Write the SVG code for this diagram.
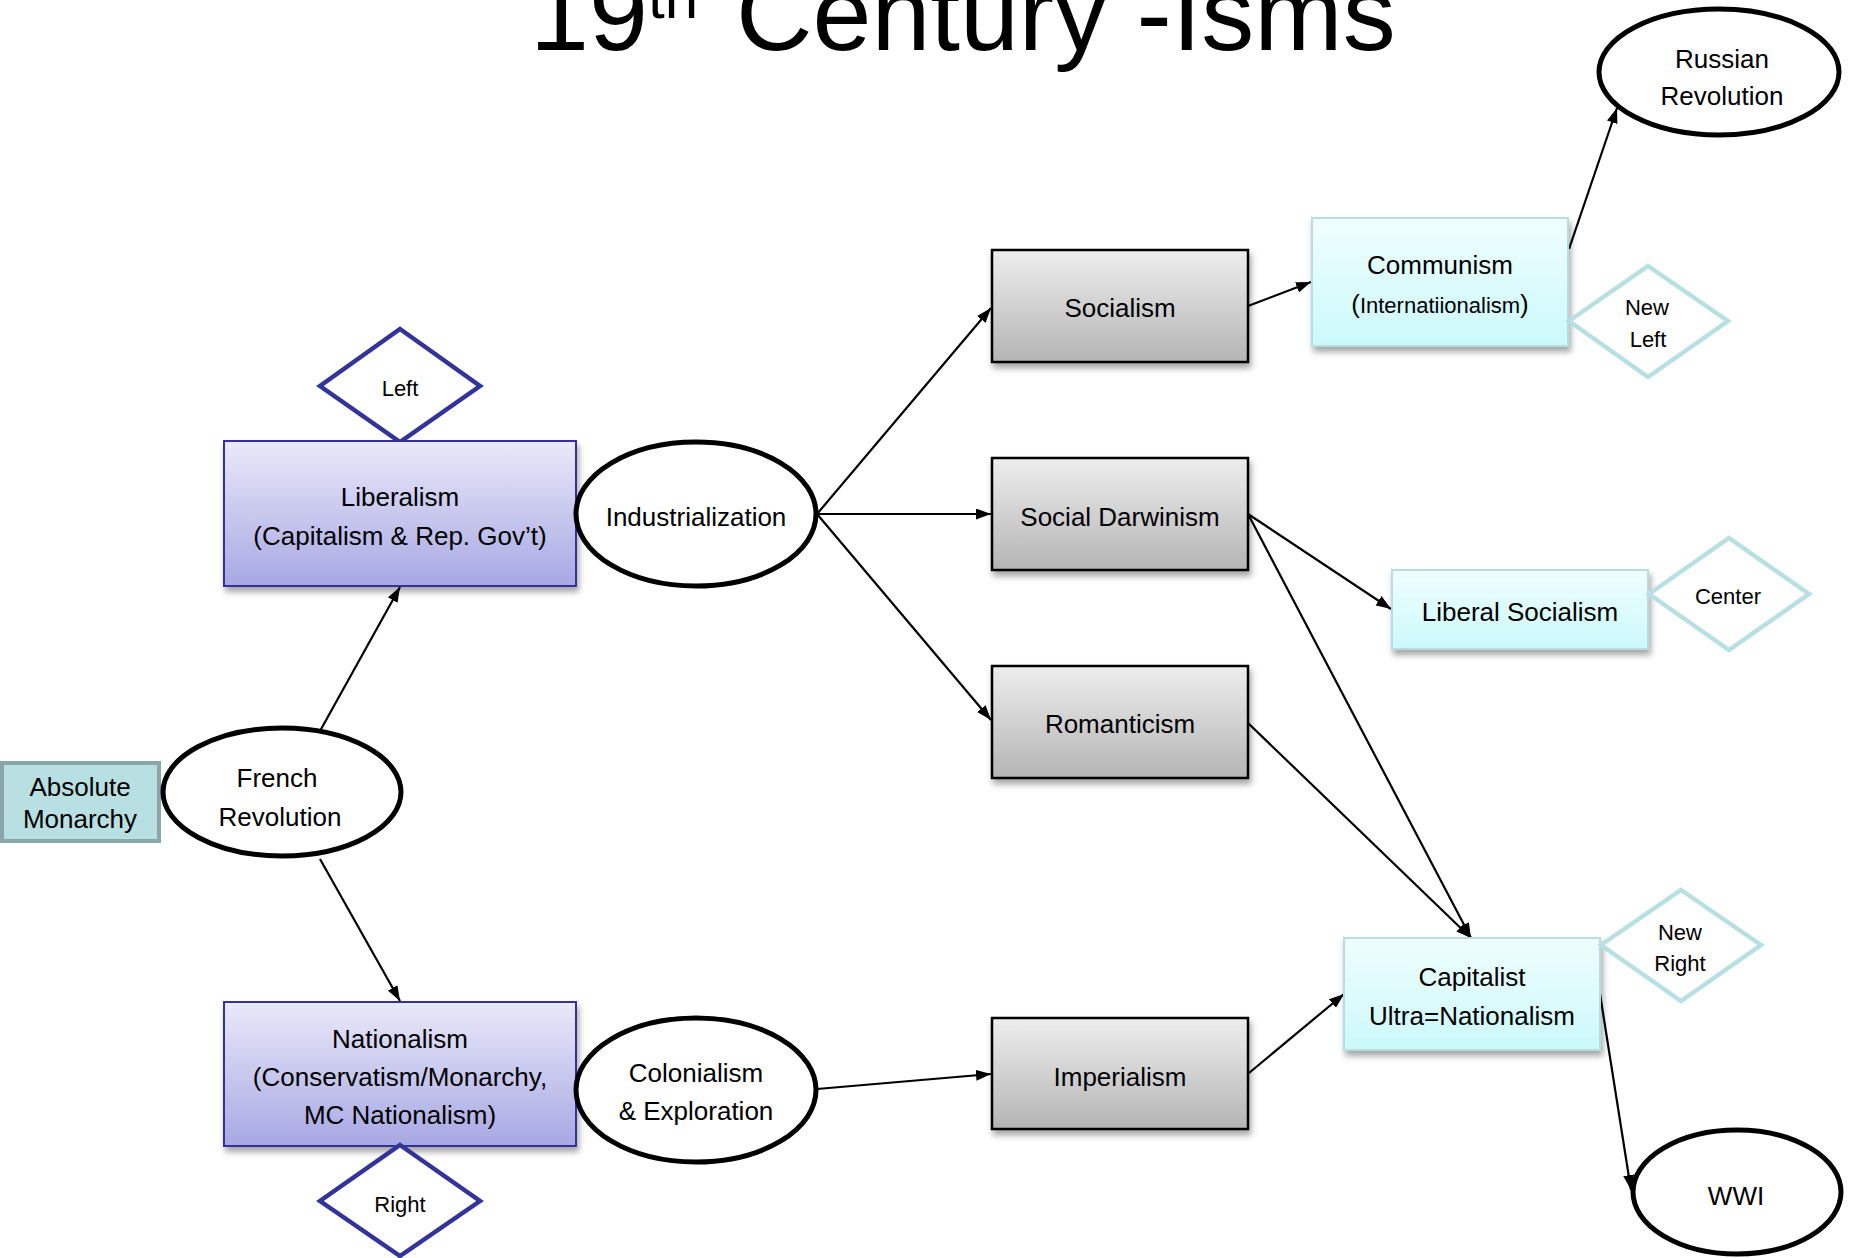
<svg xmlns="http://www.w3.org/2000/svg" width="1855" height="1258" viewBox="0 0 1855 1258">
<defs>
<linearGradient id="gLav" x1="0" y1="0" x2="0" y2="1"><stop offset="0" stop-color="#e9e9f9"/><stop offset="1" stop-color="#a8a8e4"/></linearGradient>
<linearGradient id="gGray" x1="0" y1="0" x2="0" y2="1"><stop offset="0" stop-color="#eeeeee"/><stop offset="1" stop-color="#b4b4b4"/></linearGradient>
<linearGradient id="gCyan" x1="0" y1="0" x2="0" y2="1"><stop offset="0" stop-color="#f0fefe"/><stop offset="1" stop-color="#cbf9fb"/></linearGradient>
<filter id="shadow" x="-10%" y="-10%" width="130%" height="140%"><feDropShadow dx="2" dy="5" stdDeviation="3" flood-color="#000" flood-opacity="0.35"/></filter>
<marker id="arrow" markerUnits="userSpaceOnUse" markerWidth="16" markerHeight="11" refX="15" refY="5.5" orient="auto"><path d="M0,0 L15,5.5 L0,11 z" fill="#000"/></marker>
<style>
text{font-family:"Liberation Sans",Arial,Helvetica,sans-serif;fill:#000;text-anchor:middle}
.t{font-size:26px}
.s{font-size:22px}
.ell{fill:#fff;stroke:#000;stroke-width:5}
.lav{fill:url(#gLav);stroke:#333399;stroke-width:2;filter:url(#shadow)}
.gray{fill:url(#gGray);stroke:#000;stroke-width:2.5;filter:url(#shadow)}
.cyan{fill:url(#gCyan);stroke:#b6dde0;stroke-width:2;filter:url(#shadow)}
.dnavy{fill:#fff;stroke:#333399;stroke-width:4.5}
.dteal{fill:#fff;stroke:#b8dfe2;stroke-width:4.5}
.abs{fill:#b8e0e3;stroke:#8aa6a8;stroke-width:4}
#connectors line{stroke:#000;stroke-width:2.2;marker-end:url(#arrow)}
</style>
</defs>
<rect width="1855" height="1258" fill="#fff"/>

<g id="title">
<text style="text-anchor:start;font-size:106px"><tspan x="530" y="50">19</tspan><tspan x="648" y="18" style="font-size:60px">th</tspan><tspan x="736" y="50">Century -Isms</tspan></text>
</g>

<g id="connectors">
<line x1="320" y1="731" x2="400" y2="587"/>
<line x1="320" y1="859" x2="400" y2="1001"/>
<line x1="817" y1="514" x2="991" y2="308"/>
<line x1="817" y1="514" x2="991" y2="514"/>
<line x1="817" y1="514" x2="991" y2="720"/>
<line x1="1248" y1="306" x2="1311" y2="282"/>
<line x1="1569" y1="249" x2="1617" y2="108"/>
<line x1="1248" y1="514" x2="1391" y2="609"/>
<line x1="1248" y1="514" x2="1471" y2="938"/>
<line x1="1248" y1="723" x2="1471" y2="938"/>
<line x1="1249" y1="1073" x2="1344" y2="994"/>
<line x1="1600" y1="994" x2="1631" y2="1190"/>
<line x1="817" y1="1089" x2="991" y2="1074"/>
</g>

<g id="absolute-monarchy">
<rect class="abs" x="2" y="763" width="157" height="78"/>
<text class="t" x="80" y="796">Absolute</text>
<text class="t" x="80" y="828">Monarchy</text>
</g>

<g id="french-revolution">
<ellipse class="ell" cx="282" cy="792" rx="119" ry="64"/>
<text class="t" x="277" y="787">French</text>
<text class="t" x="280" y="826">Revolution</text>
</g>

<g id="left">
<polygon class="dnavy" points="400,329 480,386 400,442 320,386"/>
<text class="s" x="400" y="396">Left</text>
</g>

<g id="liberalism">
<rect class="lav" x="224" y="441" width="352" height="145"/>
<text class="t" x="400" y="506">Liberalism</text>
<text class="t" x="400" y="545">(Capitalism &amp; Rep. Gov’t)</text>
</g>

<g id="nationalism">
<rect class="lav" x="224" y="1002" width="352" height="144"/>
<text class="t" x="400" y="1048">Nationalism</text>
<text class="t" x="400" y="1086">(Conservatism/Monarchy,</text>
<text class="t" x="400" y="1124">MC Nationalism)</text>
</g>

<g id="right">
<polygon class="dnavy" points="400,1145 480,1201 400,1256 320,1201"/>
<text class="s" x="400" y="1212">Right</text>
</g>

<g id="industrialization">
<ellipse class="ell" cx="696" cy="514" rx="120" ry="72"/>
<text class="t" x="696" y="526">Industrialization</text>
</g>

<g id="colonialism">
<ellipse class="ell" cx="696" cy="1090" rx="120" ry="72"/>
<text class="t" x="696" y="1082">Colonialism</text>
<text class="t" x="696" y="1120">&amp; Exploration</text>
</g>

<g id="socialism">
<rect class="gray" x="992" y="250" width="256" height="112"/>
<text class="t" x="1120" y="317">Socialism</text>
</g>

<g id="social-darwinism">
<rect class="gray" x="992" y="458" width="256" height="112"/>
<text class="t" x="1120" y="526">Social Darwinism</text>
</g>

<g id="romanticism">
<rect class="gray" x="992" y="666" width="256" height="112"/>
<text class="t" x="1120" y="733">Romanticism</text>
</g>

<g id="imperialism">
<rect class="gray" x="992" y="1018" width="256" height="111"/>
<text class="t" x="1120" y="1086">Imperialism</text>
</g>

<g id="communism">
<rect class="cyan" x="1312" y="218" width="256" height="128"/>
<text class="t" x="1440" y="274">Communism</text>
<text class="t" x="1440" y="313">(<tspan style="font-size:22px">Internatiionalism</tspan>)</text>
</g>

<g id="new-left">
<polygon class="dteal" points="1648,266 1728,321 1648,377 1569,321"/>
<text class="s" x="1647" y="315">New</text>
<text class="s" x="1648" y="347">Left</text>
</g>

<g id="russian-revolution">
<ellipse class="ell" cx="1719" cy="72" rx="120" ry="63"/>
<text class="t" x="1722" y="68">Russian</text>
<text class="t" x="1722" y="105">Revolution</text>
</g>

<g id="liberal-socialism">
<rect class="cyan" x="1392" y="570" width="256" height="79"/>
<text class="t" x="1520" y="621">Liberal Socialism</text>
</g>

<g id="center">
<polygon class="dteal" points="1729,538 1809,594 1729,650 1649,594"/>
<text class="s" x="1728" y="604">Center</text>
</g>

<g id="capitalist">
<rect class="cyan" x="1344" y="938" width="256" height="112"/>
<text class="t" x="1472" y="986">Capitalist</text>
<text class="t" x="1472" y="1025">Ultra=Nationalism</text>
</g>

<g id="new-right">
<polygon class="dteal" points="1681,890 1761,945 1681,1001 1601,945"/>
<text class="s" x="1680" y="940">New</text>
<text class="s" x="1680" y="971">Right</text>
</g>

<g id="wwi">
<ellipse class="ell" cx="1737" cy="1192" rx="104" ry="62"/>
<text class="t" x="1736" y="1205">WWI</text>
</g>
</svg>
